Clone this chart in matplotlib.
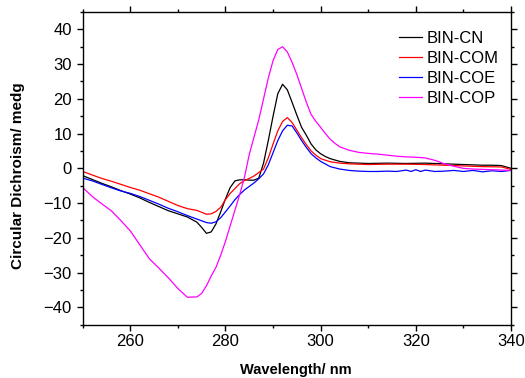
"""Circular dichroism spectra of the BIN series."""

import matplotlib

matplotlib.use("Agg")
import matplotlib.pyplot as plt
from matplotlib.ticker import MultipleLocator

plt.rcParams["font.family"] = ["Liberation Sans", "DejaVu Sans"]

labels = ["BIN-CN", "BIN-COM", "BIN-COE", "BIN-COP"]
colors = ["black", "red", "blue", "magenta"]

wl_cn = [250, 252, 254, 256, 258, 260, 262, 264, 266, 268, 270, 272, 274, 275,
         276, 277, 278, 279, 280, 281, 282, 283, 284, 285, 286, 287, 288, 289,
         290, 291, 292, 293, 294, 295, 296, 297, 298, 299, 300, 301, 302, 304,
         306, 310, 314, 318, 322, 326, 330, 334, 336, 338, 340]
cd_cn = [-2.1, -3.2, -4.3, -5.3, -6.4, -7.4, -8.5, -9.8, -11.0, -12.2, -13.1,
         -14.0, -15.5, -17.0, -18.7, -18.3, -16.0, -12.5, -8.8, -5.5, -3.6,
         -3.3, -3.3, -3.4, -3.4, -2.8, 1.5, 8.0, 15.0, 21.5, 24.2, 22.6, 19.0,
         15.3, 11.8, 9.5, 7.0, 5.3, 4.2, 3.4, 2.8, 2.0, 1.6, 1.4, 1.5, 1.4, 1.5,
         1.3, 1.1, 0.9, 0.9, 0.8, 0.0]

wl_com = [250, 252, 254, 256, 258, 260, 262, 264, 266, 268, 270, 272, 274, 276,
          277, 278, 279, 280, 281, 282, 283, 284, 285, 286, 287, 288, 289, 290,
          291, 292, 293, 294, 295, 296, 297, 298, 299, 300, 302, 304, 306, 310,
          314, 318, 322, 326, 330, 334, 338, 340]
cd_com = [-0.9, -1.9, -2.9, -3.7, -4.6, -5.5, -6.3, -7.3, -8.3, -9.5, -10.7,
          -11.6, -12.1, -13.2, -13.1, -12.4, -11.2, -9.0, -7.2, -5.8, -4.4,
          -3.5, -2.9, -2.2, -1.2, -0.2, 3.0, 7.0, 10.8, 13.5, 14.6, 13.2, 11.0,
          8.8, 6.8, 5.0, 3.8, 2.8, 1.9, 1.5, 1.3, 1.1, 1.2, 1.2, 1.1, 0.9, 0.7,
          0.5, 0.4, -0.3]

wl_coe = [250, 252, 254, 256, 258, 260, 262, 264, 266, 268, 270, 272, 274, 276,
          277, 278, 279, 280, 281, 282, 283, 284, 285, 286, 287, 288, 289, 290,
          291, 292, 293, 294, 295, 296, 297, 298, 299, 300, 302, 304, 306, 308,
          310, 312, 314, 316, 318, 319, 320, 321, 322, 324, 326, 328, 330, 332,
          334, 336, 338, 340]
cd_coe = [-2.8, -3.6, -4.6, -5.6, -6.5, -7.2, -8.1, -9.2, -10.3, -11.5, -12.5,
          -13.6, -14.6, -15.6, -15.8, -15.4, -14.2, -12.5, -10.8, -9.0, -7.5,
          -6.2, -5.2, -4.2, -3.0, -1.6, 1.0, 4.5, 8.0, 10.8, 12.4, 12.2, 10.2,
          8.0, 6.0, 4.2, 3.0, 2.0, 0.5, -0.2, -0.6, -0.8, -0.9, -0.9, -0.8, -0.9,
          -0.5, -0.9, -0.4, -0.9, -0.5, -0.9, -0.8, -0.6, -0.9, -0.6, -1.0, -0.7,
          -0.9, -0.6]

wl_cop = [250, 252, 254, 256, 258, 260, 262, 264, 266, 268, 270, 272, 274, 275,
          276, 277, 278, 279, 280, 281, 282, 283, 284, 285, 286, 287, 288, 289,
          290, 291, 292, 293, 294, 295, 296, 297, 298, 299, 300, 301, 302, 303,
          304, 306, 308, 310, 312, 314, 316, 318, 320, 322, 324, 326, 328, 330,
          332, 334, 336, 338, 340]
cd_cop = [-5.5, -8.1, -10.2, -12.2, -15.0, -18.0, -22.0, -26.0, -28.7, -31.5,
          -34.6, -37.1, -37.0, -36.0, -33.8, -31.0, -28.5, -25.0, -21.0, -16.5,
          -12.0, -7.5, -2.5, 4.0, 9.0, 14.0, 20.0, 26.0, 31.0, 34.2, 35.0, 33.5,
          30.5, 27.0, 23.0, 19.0, 15.5, 13.5, 11.8, 10.0, 8.4, 7.2, 6.2, 5.2,
          4.6, 4.3, 4.1, 3.8, 3.5, 3.3, 3.2, 3.0, 2.3, 1.3, 0.6, 0.0, -0.2, -0.3,
          -0.4, -0.5, -0.6]

series = [(wl_cn, cd_cn), (wl_com, cd_com), (wl_coe, cd_coe), (wl_cop, cd_cop)]

W, H = 525, 378
fig = plt.figure(figsize=(W / 100, H / 100), dpi=100)
ax = fig.add_axes([82.7 / W, 1 - 324.7 / H, 428.3 / W, 312.7 / H])

for (x, y), label, color in zip(series, labels, colors):
    ax.plot(x, y, color=color, linewidth=0.9, label=label)

ax.set_xlim(250, 340)
ax.set_ylim(-45, 45)
ax.xaxis.set_major_locator(MultipleLocator(20))
ax.xaxis.set_minor_locator(MultipleLocator(10))
ax.yaxis.set_major_locator(MultipleLocator(10))
ax.yaxis.set_minor_locator(MultipleLocator(5))
ax.tick_params(which="both", direction="out", top=True, right=True,
               labelsize=12, width=1.0)
ax.tick_params(which="major", length=4.3)
ax.tick_params(which="minor", length=2.5)
ax.tick_params(axis="x", pad=2.5)
ax.tick_params(axis="y", pad=3.5)
for spine in ax.spines.values():
    spine.set_linewidth(1.0)

ax.set_xlabel("Wavelength/ nm", fontsize=10.5, fontweight="bold")
ax.set_ylabel("Circular Dichroism/ medg", fontsize=11, fontweight="bold")
ax.xaxis.set_label_coords(0.498, -0.145)
ax.xaxis.label.set_verticalalignment("center")
ax.yaxis.set_label_coords(-0.15, 0.4755)
ax.yaxis.label.set_verticalalignment("center")

ax.legend(loc="upper left", bbox_to_anchor=(383.6 / W, 1 - 16 / H),
          bbox_transform=fig.transFigure, frameon=False, fontsize=12,
          handlelength=1.38, handletextpad=0.3, labelspacing=0.3)

fig.savefig("out.png", dpi=100)
